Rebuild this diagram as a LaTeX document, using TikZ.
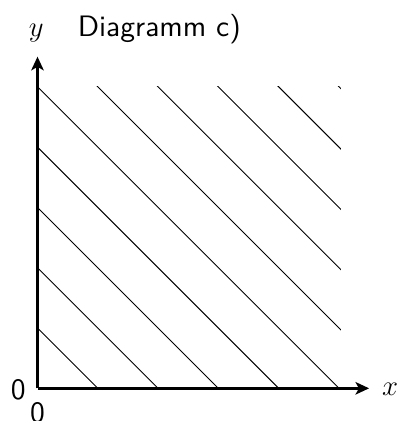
\documentclass[tikz,border=0pt]{standalone}
\usepackage{fontspec}
\setsansfont{lmsans10-regular.otf}
\usetikzlibrary{arrows.meta}
\begin{document}
\begin{tikzpicture}[x=1.0617cm,y=1.0617cm,
  axis/.style={line width=1.2pt,-{Stealth[length=2.4mm,width=2.2mm,inset=0.6mm]}},
  hatch/.style={line width=0.45pt},
  lbl/.style={inner sep=0pt,anchor=base,font=\sffamily\fontsize{14.8}{17}\selectfont},
  mlbl/.style={inner sep=0pt,anchor=base,font=\fontsize{14.4}{17}\selectfont}
]
\useasboundingbox (-0.622,-0.542) rectangle (6.028,6.44);
\coordinate (O) at (0,0);
\begin{scope}
\clip (0,0) rectangle (5.03,5.0);
\foreach \k in {1,...,10} {
  \draw[hatch] (\k,0) -- (0,\k);
}
\end{scope}
\coordinate (xe) at (5.50,0);
\coordinate (ye) at (0,5.50);
\draw[axis] (O) -- (xe);
\draw[axis] (O) -- (ye);
\node[mlbl] (xl) at (5.85,-0.12) {$x$};
\node[mlbl] (yl) at (-0.02,5.84) {$y$};
\node[lbl] (title) at (2.02,5.84) {Diagramm c)};
\node[lbl] (z1) at (-0.32,-0.19) {0};
\node[lbl] (z2) at (0.0,-0.575) {0};
\end{tikzpicture}
\end{document}
